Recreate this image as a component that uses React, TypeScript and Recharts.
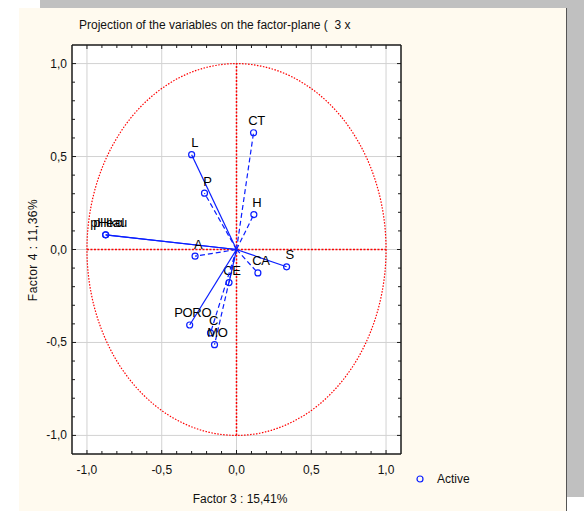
import React from 'react'
import {
  ScatterChart,
  Scatter,
  XAxis,
  YAxis,
  CartesianGrid,
  ReferenceLine,
  ReferenceArea,
} from 'recharts'

// loadings of each variable on factor 3 (x) and factor 4 (y)
const variables = ['pHkcl', 'pHeau', 'L', 'P', 'CT', 'H', 'A', 'S', 'CA', 'CE', 'PORO', 'C', 'MO']
const factor3 = [-0.875, -0.875, -0.3, -0.214, 0.114, 0.116, -0.277, 0.335, 0.143, -0.05, -0.313, -0.174, -0.147]
const factor4 = [0.079, 0.079, 0.51, 0.303, 0.628, 0.188, -0.036, -0.093, -0.126, -0.178, -0.406, -0.449, -0.512]

const majorTicks = [-1, -0.5, 0, 0.5, 1]
const minorTicks = [-1, -0.9, -0.8, -0.7, -0.6, -0.5, -0.4, -0.3, -0.2, -0.1, 0, 0.1, 0.2, 0.3, 0.4, 0.5, 0.6, 0.7, 0.8, 0.9, 1]

const chartTitle = 'Projection of the variables on the factor-plane (  3 x'
const xTitle = 'Factor 3 : 15,41%'
const yTitle = 'Factor 4 : 11,36%'
const legendLabel = 'Active'

const W = 584
const H = 511
const FONT = '"Liberation Sans", Arial, sans-serif'
const BLUE = '#0a1eff'
const RED = '#ff0000'
const FRAME = '#1a1a1a'
const dashedVars = new Set(['P', 'CT', 'H', 'A', 'CA', 'C', 'MO'])

const isMajor = (v: number) => majorTicks.some((m) => Math.abs(m - v) < 1e-6)
const fmt = (v: number) => (Math.abs(v) < 1e-9 ? 0 : v).toFixed(1).replace('.', ',')

const textStyle = { fontFamily: FONT, fontSize: 12, fill: '#111' }

const BottomTick = (p: any) => {
  const v = p.payload.value
  const major = isMajor(v)
  return (
    <g>
      <line x1={p.x} x2={p.x} y1={p.y} y2={p.y - (major ? 4 : 3)} stroke={FRAME} />
      {major && (
        <text x={p.x} y={p.y + 20} textAnchor="middle" {...textStyle}>
          {fmt(v)}
        </text>
      )}
    </g>
  )
}

const TopTick = (p: any) => {
  const major = isMajor(p.payload.value)
  return <line x1={p.x} x2={p.x} y1={p.y} y2={p.y + (major ? 4 : 3)} stroke={FRAME} />
}

const LeftTick = (p: any) => {
  const v = p.payload.value
  const major = isMajor(v)
  return (
    <g>
      <line x1={p.x} x2={p.x + (major ? 4 : 3)} y1={p.y} y2={p.y} stroke={FRAME} />
      {major && (
        <text x={p.x - 5} y={p.y + 4} textAnchor="end" {...textStyle}>
          {fmt(v)}
        </text>
      )}
    </g>
  )
}

const RightTick = (p: any) => {
  const major = isMajor(p.payload.value)
  return <line x1={p.x} x2={p.x - (major ? 4 : 3)} y1={p.y} y2={p.y} stroke={FRAME} />
}

const VarPoint = (p: any) => {
  if (p.payload.origin) return <g />
  return (
    <g>
      <circle cx={p.cx} cy={p.cy} r={3} fill="none" stroke={BLUE} strokeWidth={1.2} />
      <text
        x={p.cx + 3}
        y={p.cy - 7.5}
        textAnchor="middle"
        fontFamily={FONT}
        fontSize={13}
        letterSpacing={-0.3}
        fill="#000"
      >
        {p.payload.name}
      </text>
    </g>
  )
}

const UnitCircle = (p: any) => (
  <ellipse
    cx={p.x + p.width / 2}
    cy={p.y + p.height / 2}
    rx={p.width / 2}
    ry={p.height / 2}
    fill="none"
    stroke={RED}
    strokeWidth={1.2}
    strokeDasharray="1.5 1.5"
  />
)

export default function App() {
  const series = variables.map((name, i) => ({
    name,
    data: [
      { x: 0, y: 0, origin: true },
      { x: factor3[i], y: factor4[i], name },
    ],
  }))

  return (
    <div style={{ position: 'absolute', left: 0, top: 0, width: W, height: H, background: '#fff', overflow: 'hidden' }}>
      <div style={{ position: 'absolute', left: 40, top: 0, width: W - 40, height: 497, background: '#c0c0c0' }} />
      <div
        style={{
          position: 'absolute',
          left: 19,
          top: 8,
          width: 547,
          height: H - 8,
          background: '#fffaef',
          borderRight: '1px solid #555',
        }}
      />
      <div
        style={{
          position: 'absolute',
          left: 79,
          top: 18,
          fontFamily: FONT,
          fontSize: 12,
          color: '#111',
          whiteSpace: 'pre',
        }}
      >
        {chartTitle}
      </div>
      <div
        style={{
          position: 'absolute',
          left: 33,
          top: 250,
          transform: 'translate(-50%, -50%) rotate(-90deg)',
          fontFamily: FONT,
          fontSize: 12,
          letterSpacing: 0.5,
          color: '#111',
          whiteSpace: 'nowrap',
        }}
      >
        {yTitle}
      </div>
      <div
        style={{
          position: 'absolute',
          left: 240,
          top: 499,
          transform: 'translate(-50%, -50%)',
          fontFamily: FONT,
          fontSize: 12,
          color: '#111',
          whiteSpace: 'nowrap',
        }}
      >
        {xTitle}
      </div>
      <div style={{ position: 'absolute', left: 414, top: 472, display: 'flex', alignItems: 'center' }}>
        <svg width={12} height={14}>
          <circle cx={6} cy={7} r={3} fill="none" stroke={BLUE} strokeWidth={1.2} />
        </svg>
        <span style={{ marginLeft: 11, fontFamily: FONT, fontSize: 12, color: '#111' }}>{legendLabel}</span>
      </div>

      <div style={{ position: 'absolute', left: 0, top: 0 }}>
        <ScatterChart width={W} height={H} margin={{ top: 44, left: 71, right: 182, bottom: 56 }}>
          <CartesianGrid
            xAxisId="b"
            yAxisId="l"
            fill="#ffffff"
            fillOpacity={1}
            stroke="#d2d2d2"
            horizontalValues={majorTicks}
            verticalValues={majorTicks}
          />
          <XAxis
            xAxisId="b"
            type="number"
            dataKey="x"
            domain={[-1.1, 1.1]}
            ticks={minorTicks}
            interval={0}
            height={1}
            tickSize={0}
            tickMargin={0}
            tickLine={false}
            axisLine={{ stroke: FRAME, strokeWidth: 1.5 }}
            tick={BottomTick}
            allowDataOverflow
          />
          <XAxis
            xAxisId="t"
            orientation="top"
            type="number"
            dataKey="x"
            domain={[-1.1, 1.1]}
            ticks={minorTicks}
            interval={0}
            height={1}
            tickSize={0}
            tickMargin={0}
            tickLine={false}
            axisLine={{ stroke: FRAME, strokeWidth: 1.5 }}
            tick={TopTick}
            allowDataOverflow
          />
          <YAxis
            yAxisId="l"
            type="number"
            dataKey="y"
            domain={[-1.1, 1.1]}
            ticks={minorTicks}
            interval={0}
            width={1}
            tickSize={0}
            tickMargin={0}
            tickLine={false}
            axisLine={{ stroke: FRAME, strokeWidth: 1.5 }}
            tick={LeftTick}
            allowDataOverflow
          />
          <YAxis
            yAxisId="r"
            orientation="right"
            type="number"
            dataKey="y"
            domain={[-1.1, 1.1]}
            ticks={minorTicks}
            interval={0}
            width={1}
            tickSize={0}
            tickMargin={0}
            tickLine={false}
            axisLine={{ stroke: FRAME, strokeWidth: 1.5 }}
            tick={RightTick}
            allowDataOverflow
          />
          <ReferenceArea
            xAxisId="b"
            yAxisId="l"
            x1={-1}
            x2={1}
            y1={-1}
            y2={1}
            shape={UnitCircle}
          />
          <ReferenceLine
            xAxisId="b"
            yAxisId="l"
            segment={[{ x: -1, y: 0 }, { x: 1, y: 0 }]}
            stroke={RED}
            strokeWidth={1.5}
            strokeDasharray="2 1.5"
          />
          <ReferenceLine
            xAxisId="b"
            yAxisId="l"
            segment={[{ x: 0, y: -1 }, { x: 0, y: 1 }]}
            stroke={RED}
            strokeWidth={1.5}
            strokeDasharray="2 1.5"
          />
          {series.map((s) => (
            <Scatter
              key={s.name}
              xAxisId="b"
              yAxisId="l"
              data={s.data}
              fill={BLUE}
              line={{
                stroke: BLUE,
                strokeWidth: 1.2,
                strokeDasharray: dashedVars.has(s.name) ? '5 3' : undefined,
              }}
              shape={VarPoint}
              isAnimationActive={false}
            />
          ))}
        </ScatterChart>
      </div>
    </div>
  )
}
